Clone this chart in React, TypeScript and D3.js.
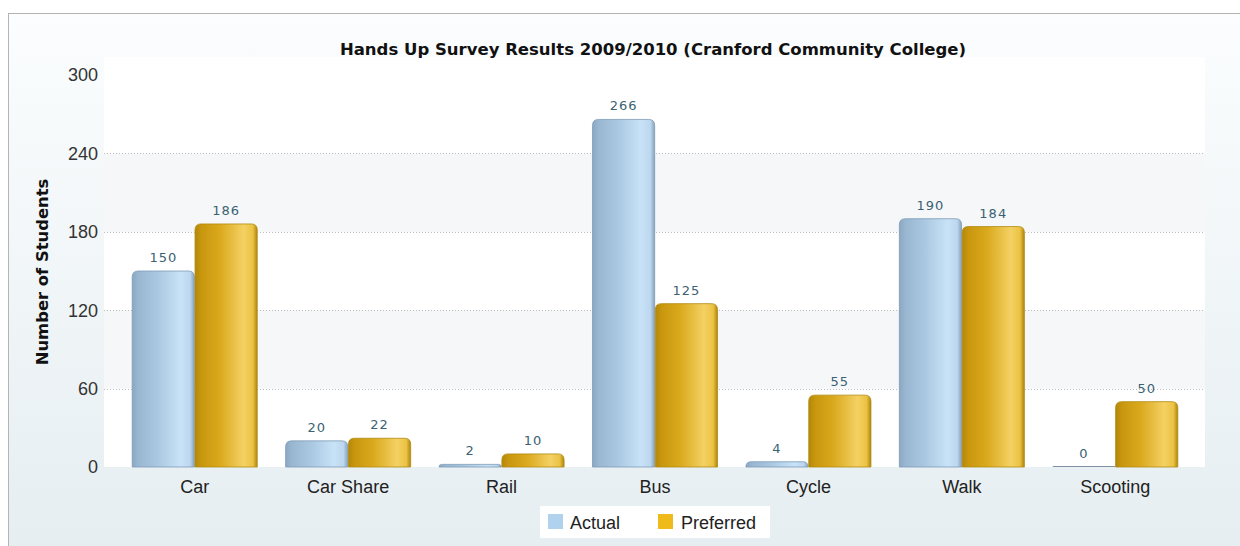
import * as d3 from "d3";
import { useEffect, useRef } from "react";

const categories = ["Car", "Car Share", "Rail", "Bus", "Cycle", "Walk", "Scooting"];
const seriesNames = ["Actual", "Preferred"];
const actual = [150, 20, 2, 266, 4, 190, 0];
const preferred = [186, 22, 10, 125, 55, 184, 50];
const yTicks = [0, 60, 120, 180, 240, 300];

const W = 1240;
const H = 546;

const App = () => {
  const svgRef = useRef<SVGSVGElement | null>(null);

  useEffect(() => {
    if (!svgRef.current) return;
    const svg = d3.select(svgRef.current);
    svg.selectAll("*").remove();

    const defs = svg.append("defs");

    const bg = defs.append("linearGradient").attr("id", "frameBg")
      .attr("x1", 0).attr("y1", 0).attr("x2", 0).attr("y2", 1);
    bg.append("stop").attr("offset", "0%").attr("stop-color", "#fbfdfe");
    bg.append("stop").attr("offset", "100%").attr("stop-color", "#e6eef1");

    const barGrad = (id: string, stops: [number, string][]) => {
      const g = defs.append("linearGradient").attr("id", id)
        .attr("x1", 0).attr("y1", 0).attr("x2", 1).attr("y2", 0);
      stops.forEach(([o, c]) => g.append("stop").attr("offset", `${o}%`).attr("stop-color", c));
    };
    barGrad("gActual", [[0, "#8aa7c3"], [10, "#9ab7d2"], [40, "#a9c7e1"], [78, "#c8e3f7"], [93, "#bcd7ee"], [100, "#86a2bd"]]);
    barGrad("gPreferred", [[0, "#b48709"], [10, "#c8970e"], [40, "#daa91d"], [78, "#f4d163"], [93, "#ebc243"], [100, "#ad850d"]]);

    // outer frame
    svg.append("rect").attr("x", 8.5).attr("y", 13.5).attr("width", W - 8).attr("height", H - 12)
      .attr("fill", "url(#frameBg)").attr("stroke", "#b4b4b4");

    const y = d3.scaleLinear().domain([0, 300]).range([467, 75]);
    const x = d3.scaleBand<string>().domain(categories).range([118, 1192])
      .paddingInner(0.185).paddingOuter(0.0925);
    const xs = d3.scaleBand<string>().domain(seriesNames).range([0, x.bandwidth()]).paddingInner(0.01);

    const plotL = 104;
    const plotR = 1205;

    // plot background and bands
    svg.append("rect").attr("x", plotL).attr("y", 57).attr("width", plotR - plotL).attr("height", y(0) - 57)
      .attr("fill", "#ffffff");
    const bands = [[60, 120], [180, 240]];
    svg.append("g").selectAll("rect").data(bands).enter().append("rect")
      .attr("x", plotL).attr("width", plotR - plotL)
      .attr("y", d => y(d[1])).attr("height", d => y(d[0]) - y(d[1]))
      .attr("fill", "#f5f7f8");

    // dotted grid
    svg.append("g").selectAll("line").data(yTicks.filter(t => t > 0 && t < 300)).enter().append("line")
      .attr("x1", plotL).attr("x2", plotR)
      .attr("y1", d => Math.round(y(d)) + 0.5).attr("y2", d => Math.round(y(d)) + 0.5)
      .attr("stroke", "#b8bcbf").attr("stroke-dasharray", "1,2");

    // y tick labels
    svg.append("g").selectAll("text").data(yTicks).enter().append("text")
      .attr("x", 98).attr("y", d => y(d)).attr("dy", "0.35em")
      .attr("text-anchor", "end")
      .attr("font-family", "Liberation Sans, Arial, sans-serif").attr("font-size", 18)
      .attr("fill", "#333").text(d => d);

    // bars
    const topRounded = (x0: number, w: number, yTop: number, yBase: number, r: number) => {
      const h = yBase - yTop;
      const rr = Math.min(r, h, w / 2);
      return `M${x0},${yBase}V${yTop + rr}Q${x0},${yTop} ${x0 + rr},${yTop}H${x0 + w - rr}Q${x0 + w},${yTop} ${x0 + w},${yTop + rr}V${yBase}Z`;
    };

    const rows = categories.map((c, i) => ({ c, vals: [actual[i], preferred[i]] }));
    const groups = svg.append("g").selectAll("g").data(rows).enter().append("g")
      .attr("transform", d => `translate(${x(d.c)},0)`);

    groups.each(function (d) {
      const g = d3.select(this);
      d.vals.forEach((v, si) => {
        const name = seriesNames[si];
        const bx = xs(name)!;
        const bw = xs.bandwidth();
        if (v > 0) {
          g.append("path")
            .attr("d", topRounded(bx, bw, y(v), y(0), 6))
            .attr("fill", si === 0 ? "url(#gActual)" : "url(#gPreferred)")
            .attr("stroke", si === 0 ? "#7e9bb6" : "#b08a10").attr("stroke-width", 0.8);
        } else {
          g.append("line").attr("x1", bx).attr("x2", bx + bw)
            .attr("y1", y(0) - 0.5).attr("y2", y(0) - 0.5)
            .attr("stroke", "#7f93a8").attr("stroke-width", 1.2);
        }
        g.append("text")
          .attr("x", bx + bw / 2).attr("y", y(v) - 9)
          .attr("text-anchor", "middle")
          .attr("font-family", "DejaVu Sans, Verdana, sans-serif").attr("font-size", 13)
          .attr("letter-spacing", 1)
          .attr("fill", "#3b6273").text(v);
      });
    });

    // x labels
    svg.append("g").selectAll("text").data(categories).enter().append("text")
      .attr("x", d => x(d)! + x.bandwidth() / 2).attr("y", 493)
      .attr("text-anchor", "middle")
      .attr("font-family", "Liberation Sans, Arial, sans-serif").attr("font-size", 18)
      .attr("fill", "#222").text(d => d);

    // title
    svg.append("text").attr("x", 653).attr("y", 55).attr("text-anchor", "middle")
      .attr("font-family", "DejaVu Sans, Verdana, sans-serif").attr("font-size", 16.5).attr("font-weight", "bold")
      .attr("fill", "#111").text("Hands Up Survey Results 2009/2010 (Cranford Community College)");

    // y title
    svg.append("text").attr("transform", "translate(48,272) rotate(-90)").attr("text-anchor", "middle")
      .attr("font-family", "DejaVu Sans, Verdana, sans-serif").attr("font-size", 16.4).attr("font-weight", "bold")
      .attr("fill", "#111").text("Number of Students");

    // legend
    const lg = svg.append("g");
    lg.append("rect").attr("x", 540).attr("y", 506).attr("width", 230).attr("height", 32).attr("fill", "#ffffff");
    const items = [
      { name: seriesNames[0], color: "#b1d2ef", x: 548, tx: 570 },
      { name: seriesNames[1], color: "#efbb1a", x: 658, tx: 681 },
    ];
    items.forEach(it => {
      lg.append("rect").attr("x", it.x).attr("y", 514).attr("width", 15).attr("height", 15).attr("fill", it.color);
      lg.append("text").attr("x", it.tx).attr("y", 529)
        .attr("font-family", "Liberation Sans, Arial, sans-serif").attr("font-size", 18)
        .attr("fill", "#222").text(it.name);
    });
  }, []);

  return (
    <svg ref={svgRef} width={W} height={H} viewBox={`0 0 ${W} ${H}`}
      style={{ position: "absolute", left: 0, top: 0 }} />
  );
};

export default App;
